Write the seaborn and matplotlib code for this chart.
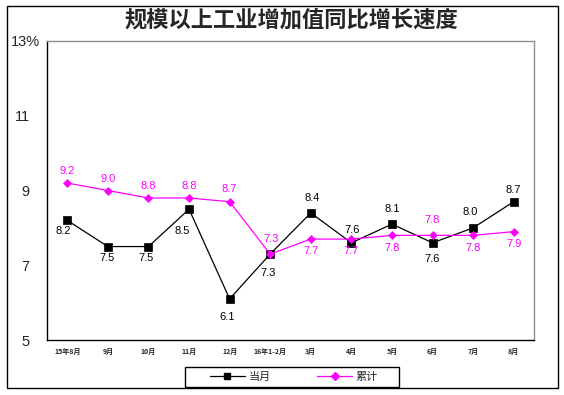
import matplotlib
matplotlib.use("Agg")
import matplotlib.pyplot as plt
import matplotlib.transforms as mtransforms
import seaborn as sns
import pandas as pd
from matplotlib.patches import Rectangle
from matplotlib.lines import Line2D

sns.set_style("white")
plt.rcParams['font.family'] = ['Noto Sans CJK SC', 'DejaVu Sans']

months = ["15年8月", "9月", "10月", "11月", "12月", "16年1-2月", "3月", "4月", "5月", "6月", "7月", "8月"]
monthly = [8.2, 7.5, 7.5, 8.5, 6.1, 7.3, 8.4, 7.6, 8.1, 7.6, 8.0, 8.7]
cumulative = [9.2, 9.0, 8.8, 8.8, 8.7, 7.3, 7.7, 7.7, 7.8, 7.8, 7.8, 7.9]
yticks = [5, 7, 9, 11, 13]
ytick_labels = ["5", "7", "9", "11", "13%"]

# label offsets in pixels (dx, dy; positive dy = upward)
monthly_off = [(-4, -11), (-1, -11), (-2, -11), (-7, -22), (-2, -18), (-2, -19),
               (1, 15), (1, 13), (0, 15), (0, -16), (-3, 16), (-1, 12)]
cumulative_off = [(0, 12), (0, 11), (0, 12), (0, 12), (0, 13), (1, 15),
                  (0, -12), (0, -12), (0, -13), (0, 15), (0, -13), (0, -12)]

idx = list(range(len(months)))
df = pd.DataFrame({"x": idx + idx,
                   "value": monthly + cumulative,
                   "series": ["当月"] * len(idx) + ["累计"] * len(idx)})

fig = plt.figure(figsize=(5.64, 3.95), dpi=100)
ax = fig.add_axes([47/564, 1-340/395, (534-47)/564, (340-41)/395])

colors = {"当月": "black", "累计": "#FF00FF"}
markers = {"当月": "s", "累计": "D"}
sizes = {"当月": 5.2, "累计": 4.3}
for name in ["当月", "累计"]:
    sub = df[df.series == name]
    sns.lineplot(data=sub, x="x", y="value", ax=ax, color=colors[name], lw=0.9,
                 marker=markers[name], markersize=sizes[name], markeredgecolor=colors[name],
                 markeredgewidth=0.5, sort=False, legend=False,
                 zorder=3 if name == "累计" else 2)

ax.set_xlim(-0.5, len(months) - 0.5)
ax.set_ylim(5, 13)
ax.set_yticks(yticks)
ax.set_yticklabels(ytick_labels, family=['Liberation Sans', 'DejaVu Sans'], fontsize=10.5)
ax.set_xticks(idx)
ax.set_xticklabels(months, fontsize=5, fontweight='bold')
ax.set_xticks([i + 0.5 for i in idx[:-1]], minor=True)
ax.tick_params(axis='x', which='major', length=0, pad=6)
ax.tick_params(axis='x', which='minor', length=4, direction='out', width=0.8, color='black')
ax.tick_params(axis='y', which='major', length=4, direction='out', width=0.8, color='black', pad=8.5)
ax.set_xlabel("")
ax.set_ylabel("")
for s in ['left', 'bottom']:
    ax.spines[s].set_color('black')
    ax.spines[s].set_linewidth(1.0)
for s in ['top', 'right']:
    ax.spines[s].set_color('#909090')
    ax.spines[s].set_linewidth(1.0)
ax.grid(False)

# let the % sign of the top label overhang to the right, as in the original
top_label = ax.get_yticklabels()[-1]
top_label.set_transform(top_label.get_transform() +
                        mtransforms.ScaledTranslation(10/100, 0, fig.dpi_scale_trans))

lab_font = ['Liberation Sans', 'DejaVu Sans']
for i, (v, (dx, dy)) in enumerate(zip(monthly, monthly_off)):
    ax.annotate(f"{v:.1f}", (i, v), xytext=(dx, dy), textcoords='offset pixels',
                ha='center', va='center', fontsize=8, color='black', family=lab_font)
for i, (v, (dx, dy)) in enumerate(zip(cumulative, cumulative_off)):
    ax.annotate(f"{v:.1f}", (i, v), xytext=(dx, dy), textcoords='offset pixels',
                ha='center', va='center', fontsize=8, color='#FF00FF', family=lab_font)

fig.text(291/564, 1-20/395, "规模以上工业增加值同比增长速度", ha='center', va='center',
         fontsize=16, fontweight='bold')

handles = [Line2D([], [], color='black', lw=0.9, marker='s', markersize=4.5),
           Line2D([], [], color='#FF00FF', lw=0.9, marker='D', markersize=3.8)]
leg = fig.legend(handles, ["当月", "累计"], loc='center', bbox_to_anchor=(294/564, 1-377/395),
                 ncol=2, frameon=False, fontsize=8, handlelength=3.1, columnspacing=4.2,
                 borderpad=0.0, handletextpad=0.35)

fig.patches.append(Rectangle((185/564, 1-387/395), (399-185)/564, (387-367)/395,
                             transform=fig.transFigure, fill=False, edgecolor='black', lw=1.0))
fig.patches.append(Rectangle((7/564, 1-388/395), (558-7)/564, (388-6)/395,
                             transform=fig.transFigure, fill=False, edgecolor='black', lw=1.0))

fig.savefig("out.png", dpi=100)
